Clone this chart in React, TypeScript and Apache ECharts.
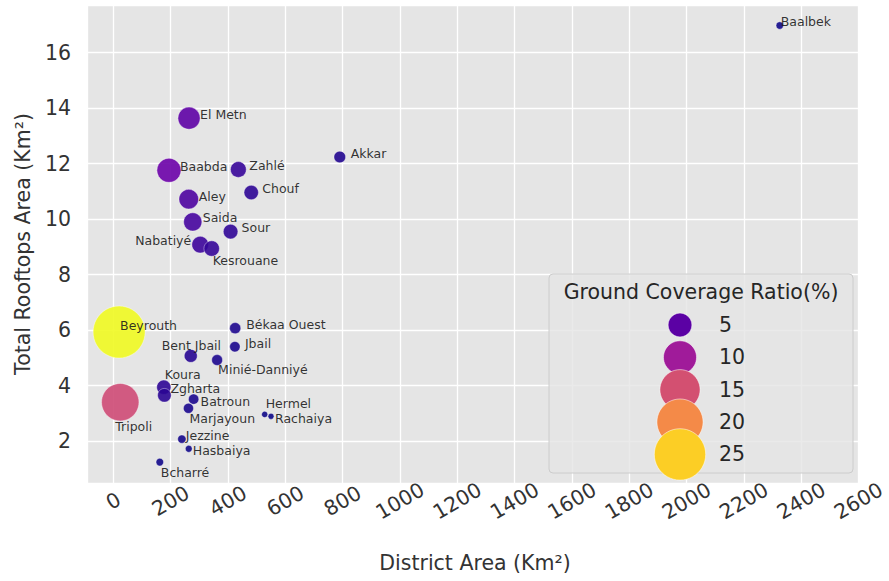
import React, { useEffect, useRef } from "react";
import * as echarts from "echarts";

// ---------------- data ----------------
const districts = [
  "Baalbek", "El Metn", "Akkar", "Baabda", "Zahlé", "Chouf", "Aley", "Saida", "Sour",
  "Nabatiyé", "Kesrouane", "Beyrouth", "Békaa Ouest", "Jbail", "Bent Jbail", "Minié-Danniyé",
  "Koura", "Zgharta", "Batroun", "Tripoli", "Marjayoun", "Hermel", "Rachaiya", "Jezzine",
  "Hasbaiya", "Bcharré",
];
const districtArea = [
  2325, 264, 790, 194, 436, 481, 263, 277, 409, 303, 343, 20, 425, 424, 270, 362, 176, 178,
  280, 24, 262, 528, 550, 239, 263, 162,
];
const rooftopArea = [
  16.98, 13.64, 12.24, 11.76, 11.79, 10.96, 10.72, 9.9, 9.55, 9.08, 8.94, 5.93, 6.07, 5.4,
  5.07, 4.92, 3.94, 3.65, 3.51, 3.4, 3.18, 2.96, 2.89, 2.07, 1.72, 1.24,
];
const coverageRatio = [
  0.73, 5.17, 1.55, 6.07, 2.71, 2.28, 4.08, 3.57, 2.34, 3.0, 2.61, 27.7, 1.43, 1.27, 1.88,
  1.36, 2.23, 2.05, 1.25, 14.4, 1.21, 0.56, 0.53, 0.87, 0.65, 0.76,
];
const legendValues = [5, 10, 15, 20, 25];

// ---------------- layout / style ----------------
const labelOffsets: Record<string, { dx: number; dy: number; align?: string }> = {
  Baalbek: { dx: 1, dy: -4 },
  "El Metn": { dx: 11, dy: -4 },
  Akkar: { dx: 11, dy: -4 },
  Baabda: { dx: 11, dy: -4 },
  Zahlé: { dx: 11, dy: -4 },
  Chouf: { dx: 11, dy: -4 },
  Aley: { dx: 10, dy: -3 },
  Saida: { dx: 10, dy: -4 },
  Sour: { dx: 11, dy: -4 },
  Nabatiyé: { dx: -9, dy: -4, align: "right" },
  Kesrouane: { dx: 1, dy: 12 },
  Beyrouth: { dx: 1, dy: -7 },
  "Békaa Ouest": { dx: 11, dy: -4 },
  Jbail: { dx: 10, dy: -3 },
  "Bent Jbail": { dx: -29, dy: -10 },
  "Minié-Danniyé": { dx: 1, dy: 9 },
  Koura: { dx: 1, dy: -13 },
  Zgharta: { dx: 6, dy: -7 },
  Batroun: { dx: 7, dy: 2 },
  Tripoli: { dx: -5, dy: 24 },
  Marjayoun: { dx: 1, dy: 10 },
  Hermel: { dx: 1, dy: -11 },
  Rachaiya: { dx: 4, dy: 2 },
  Jezzine: { dx: 4, dy: -4 },
  Hasbaiya: { dx: 4, dy: 2 },
  Bcharré: { dx: 1, dy: 10 },
};

const PLASMA = [
  "#0d0887", "#41049d", "#6a00a8", "#8f0da4", "#b12a90", "#cc4778",
  "#e16462", "#f2844b", "#fca636", "#fcce25", "#f0f921",
];
const FONT = "DejaVu Sans";

const rMin = Math.min(...coverageRatio);
const rMax = Math.max(...coverageRatio);
const norm = (r: number) => Math.max(0, Math.min(1, (r - rMin) / (rMax - rMin)));
const AREA_MIN = 36;
const AREA_MAX = 2704;
const diameter = (r: number) => Math.sqrt(AREA_MIN + (AREA_MAX - AREA_MIN) * norm(r));

function hexToRgb(h: string) {
  const n = parseInt(h.slice(1), 16);
  return [(n >> 16) & 255, (n >> 8) & 255, n & 255];
}
function plasma(t: number) {
  const p = t * (PLASMA.length - 1);
  const i = Math.min(PLASMA.length - 2, Math.floor(p));
  const f = p - i;
  const a = hexToRgb(PLASMA[i]);
  const b = hexToRgb(PLASMA[i + 1]);
  const c = a.map((v, k) => Math.round(v + (b[k] - v) * f));
  return `rgb(${c[0]},${c[1]},${c[2]})`;
}

export default function App() {
  const ref = useRef<HTMLDivElement>(null);

  useEffect(() => {
    if (!ref.current) return;
    const chart = echarts.init(ref.current, undefined, { renderer: "svg" });

    const data = districts.map((name, i) => {
      const o = labelOffsets[name] || { dx: 10, dy: -4 };
      return {
        name,
        value: [districtArea[i], rooftopArea[i], coverageRatio[i]],
        label: { offset: [o.dx, o.dy], align: o.align || "left" },
      };
    });

    // legend box
    const lx = 549, ly = 274, lw = 304, lh = 199;
    const legendChildren: any[] = [
      {
        type: "rect",
        shape: { x: lx, y: ly, width: lw, height: lh, r: 4 },
        style: { fill: "rgba(229,229,229,0.8)", stroke: "#cccccc", lineWidth: 1 },
        z: 100,
      },
      {
        type: "text",
        x: lx + lw / 2,
        y: 292,
        z: 101,
        style: {
          text: "Ground Coverage Ratio(%)",
          fontSize: 20.5,
          fontFamily: FONT,
          fill: "#262626",
          align: "center",
          verticalAlign: "middle",
        },
      },
    ];
    legendValues.forEach((v, i) => {
      const cy = 325 + i * 32.35;
      legendChildren.push({
        type: "circle",
        shape: { cx: 680, cy, r: (diameter(v) + 2) / 2 },
        style: { fill: plasma(norm(v)), stroke: "rgba(255,255,255,0.5)", lineWidth: 1 },
        z: 101 + i,
      });
      legendChildren.push({
        type: "text",
        x: 719,
        y: cy,
        z: 110,
        style: {
          text: String(v),
          fontSize: 20.5,
          fontFamily: FONT,
          fill: "#262626",
          align: "left",
          verticalAlign: "middle",
        },
      });
    });

    const option: any = {
      animation: false,
      backgroundColor: "#ffffff",
      grid: {
        left: 87,
        top: 5,
        right: 25,
        bottom: 98,
        show: true,
        backgroundColor: "#e5e5e5",
        borderWidth: 0,
      },
      xAxis: {
        type: "value",
        min: -92,
        max: 2600,
        splitNumber: 13,
        axisLine: { show: false },
        axisTick: { show: false },
        splitLine: { show: true, lineStyle: { color: "#ffffff", width: 1.3 } },
        axisLabel: {
          rotate: 30,
          align: "center",
          verticalAlign: "middle",
          margin: 18,
          fontSize: 20.5,
          fontFamily: FONT,
          color: "#333333",
          showMinLabel: false,
          showMaxLabel: true,
          formatter: (v: number) => String(v),
        },
      },
      yAxis: {
        type: "value",
        min: 0.487,
        max: 17.72,
        splitNumber: 8,
        axisLine: { show: false },
        axisTick: { show: false },
        splitLine: { show: true, lineStyle: { color: "#ffffff", width: 1.3 } },
        axisLabel: {
          margin: 16,
          fontSize: 20.5,
          fontFamily: FONT,
          color: "#333333",
          showMinLabel: false,
          showMaxLabel: false,
          formatter: (v: number) => String(v),
        },
      },
      visualMap: {
        type: "continuous",
        show: false,
        seriesIndex: 0,
        dimension: 2,
        min: rMin,
        max: rMax,
        inRange: { color: PLASMA },
      },
      series: [
        {
          type: "scatter",
          data,
          symbol: "circle",
          symbolSize: (val: number[]) => diameter(val[2]),
          itemStyle: {
            opacity: 0.9,
            borderColor: "rgba(255,255,255,0.55)",
            borderWidth: 0.8,
          },
          label: {
            show: true,
            formatter: "{b}",
            position: "inside",
            verticalAlign: "middle",
            fontSize: 12.5,
            fontFamily: FONT,
            color: "#1a1a1a",
          },
          emphasis: { disabled: true },
          z: 3,
        },
      ],
      graphic: [
        {
          type: "text",
          x: 475,
          y: 563,
          style: {
            text: "District Area (Km²)",
            fontSize: 20.5,
            fontFamily: FONT,
            fill: "#333333",
            align: "center",
            verticalAlign: "middle",
          },
        },
        {
          type: "text",
          x: 23,
          y: 244,
          rotation: Math.PI / 2,
          style: {
            text: "Total Rooftops Area (Km²)",
            fontSize: 20.5,
            fontFamily: FONT,
            fill: "#333333",
            align: "center",
            verticalAlign: "middle",
          },
        },
        { type: "group", children: legendChildren },
      ],
    };

    chart.setOption(option);
    return () => chart.dispose();
  }, []);

  return (
    <div
      ref={ref}
      style={{ position: "fixed", left: 0, top: 0, width: 889, height: 581 }}
    />
  );
}
